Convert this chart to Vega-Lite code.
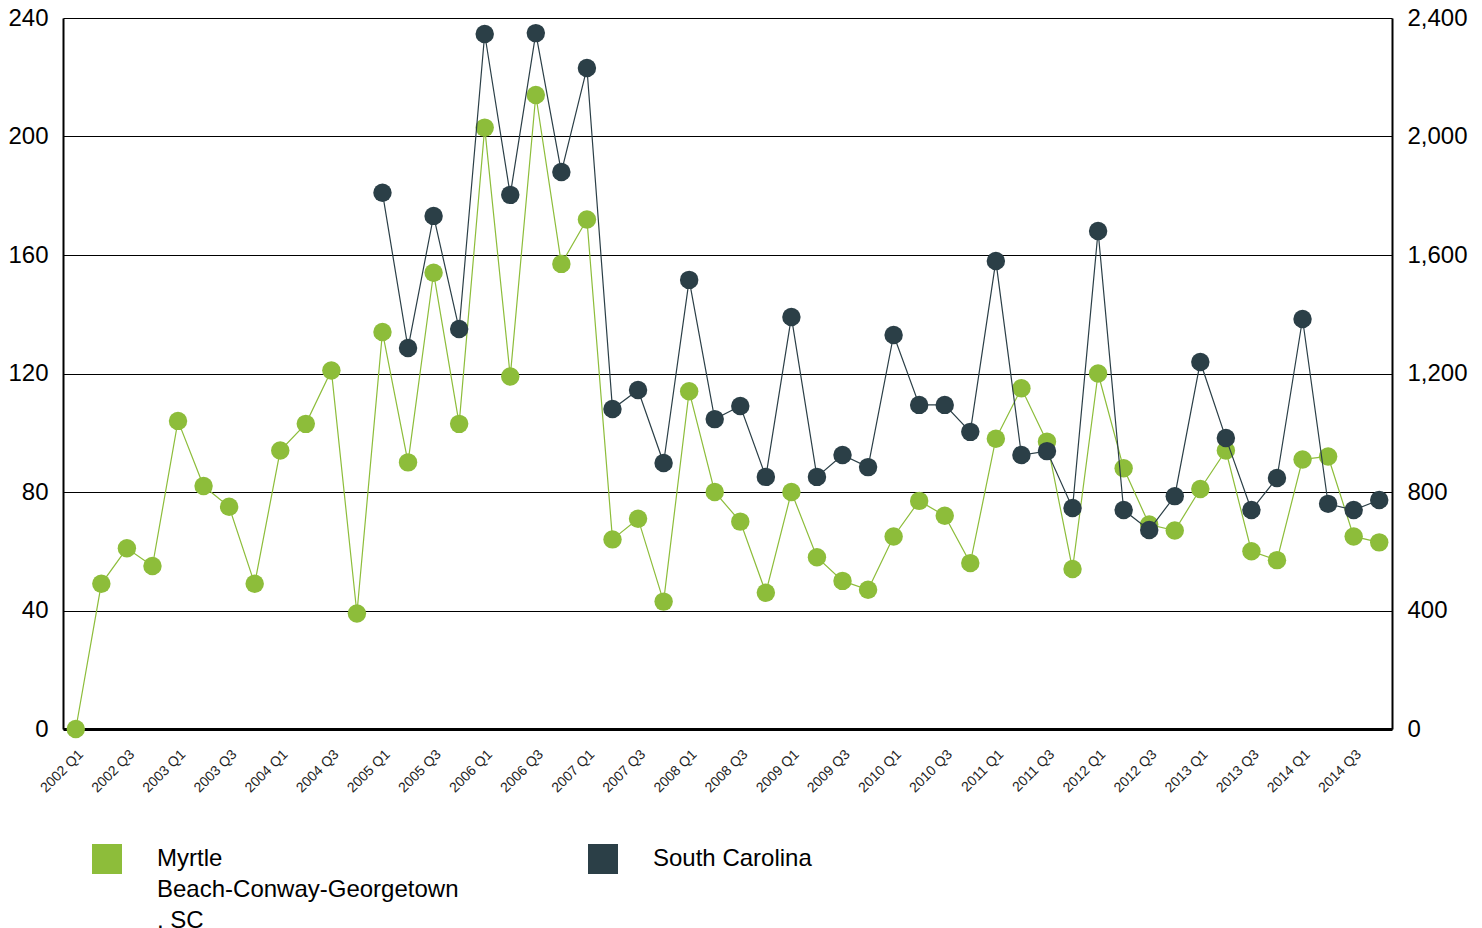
{
  "$schema": "https://vega.github.io/schema/vega-lite/v6.json",
  "autosize": {"type": "none"},
  "width": 1329,
  "height": 711,
  "padding": {"left": 63, "top": 18, "right": 90, "bottom": 199},
  "background": "white",
  "config": {
    "view": {"stroke": null},
    "font": "Liberation Sans",
    "axis": {"labelFont": "Liberation Sans", "labelColor": "#000000", "ticks": false, "title": null},
    "style": {"guide-label": {"lineHeight": 31}}
  },
  "datasets": {
    "myrtle": [
      {"q": "2002 Q1", "v": 0}, {"q": "2002 Q2", "v": 49}, {"q": "2002 Q3", "v": 61}, {"q": "2002 Q4", "v": 55},
      {"q": "2003 Q1", "v": 104}, {"q": "2003 Q2", "v": 82}, {"q": "2003 Q3", "v": 75}, {"q": "2003 Q4", "v": 49},
      {"q": "2004 Q1", "v": 94}, {"q": "2004 Q2", "v": 103}, {"q": "2004 Q3", "v": 121}, {"q": "2004 Q4", "v": 39},
      {"q": "2005 Q1", "v": 134}, {"q": "2005 Q2", "v": 90}, {"q": "2005 Q3", "v": 154}, {"q": "2005 Q4", "v": 103},
      {"q": "2006 Q1", "v": 203}, {"q": "2006 Q2", "v": 119}, {"q": "2006 Q3", "v": 214}, {"q": "2006 Q4", "v": 157},
      {"q": "2007 Q1", "v": 172}, {"q": "2007 Q2", "v": 64}, {"q": "2007 Q3", "v": 71}, {"q": "2007 Q4", "v": 43},
      {"q": "2008 Q1", "v": 114}, {"q": "2008 Q2", "v": 80}, {"q": "2008 Q3", "v": 70}, {"q": "2008 Q4", "v": 46},
      {"q": "2009 Q1", "v": 80}, {"q": "2009 Q2", "v": 58}, {"q": "2009 Q3", "v": 50}, {"q": "2009 Q4", "v": 47},
      {"q": "2010 Q1", "v": 65}, {"q": "2010 Q2", "v": 77}, {"q": "2010 Q3", "v": 72}, {"q": "2010 Q4", "v": 56},
      {"q": "2011 Q1", "v": 98}, {"q": "2011 Q2", "v": 115}, {"q": "2011 Q3", "v": 97}, {"q": "2011 Q4", "v": 54},
      {"q": "2012 Q1", "v": 120}, {"q": "2012 Q2", "v": 88}, {"q": "2012 Q3", "v": 69}, {"q": "2012 Q4", "v": 67},
      {"q": "2013 Q1", "v": 81}, {"q": "2013 Q2", "v": 94}, {"q": "2013 Q3", "v": 60}, {"q": "2013 Q4", "v": 57},
      {"q": "2014 Q1", "v": 91}, {"q": "2014 Q2", "v": 92}, {"q": "2014 Q3", "v": 65}, {"q": "2014 Q4", "v": 63}
    ],
    "sc": [
      {"q": "2005 Q1", "v": 1810}, {"q": "2005 Q2", "v": 1286}, {"q": "2005 Q3", "v": 1732}, {"q": "2005 Q4", "v": 1350},
      {"q": "2006 Q1", "v": 2346}, {"q": "2006 Q2", "v": 1803}, {"q": "2006 Q3", "v": 2349}, {"q": "2006 Q4", "v": 1880},
      {"q": "2007 Q1", "v": 2231}, {"q": "2007 Q2", "v": 1080}, {"q": "2007 Q3", "v": 1144}, {"q": "2007 Q4", "v": 898},
      {"q": "2008 Q1", "v": 1516}, {"q": "2008 Q2", "v": 1046}, {"q": "2008 Q3", "v": 1090}, {"q": "2008 Q4", "v": 851},
      {"q": "2009 Q1", "v": 1391}, {"q": "2009 Q2", "v": 851}, {"q": "2009 Q3", "v": 925}, {"q": "2009 Q4", "v": 884},
      {"q": "2010 Q1", "v": 1330}, {"q": "2010 Q2", "v": 1094}, {"q": "2010 Q3", "v": 1094}, {"q": "2010 Q4", "v": 1003},
      {"q": "2011 Q1", "v": 1580}, {"q": "2011 Q2", "v": 925}, {"q": "2011 Q3", "v": 938}, {"q": "2011 Q4", "v": 746},
      {"q": "2012 Q1", "v": 1681}, {"q": "2012 Q2", "v": 739}, {"q": "2012 Q3", "v": 672}, {"q": "2012 Q4", "v": 786},
      {"q": "2013 Q1", "v": 1239}, {"q": "2013 Q2", "v": 982}, {"q": "2013 Q3", "v": 739}, {"q": "2013 Q4", "v": 847},
      {"q": "2014 Q1", "v": 1384}, {"q": "2014 Q2", "v": 760}, {"q": "2014 Q3", "v": 739}, {"q": "2014 Q4", "v": 773}
    ]
  },
  "encoding": {
    "x": {
      "field": "q", "type": "ordinal",
      "scale": {"type": "point", "padding": 0.5},
      "axis": {
        "labelAngle": -45, "labelFontSize": 14, "labelColor": "#222222", "labelPadding": 18,
        "domainColor": "#000000", "domainWidth": 3,
        "labelExpr": "indexof(datum.value, 'Q1') >= 0 || indexof(datum.value, 'Q3') >= 0 ? datum.value : ''"
      }
    }
  },
  "layer": [
    {
      "data": {"name": "myrtle"},
      "transform": [{"calculate": "'Myrtle Beach-Conway-Georgetown, SC'", "as": "series"}],
      "encoding": {
        "y": {
          "field": "v", "type": "quantitative",
          "scale": {"domain": [0, 240], "nice": false},
          "axis": {
            "orient": "left", "values": [0, 40, 80, 120, 160, 200, 240],
            "grid": true, "gridColor": "#000000", "gridWidth": 1, "gridOpacity": 1,
            "domainColor": "#000000", "domainWidth": 2,
            "labelFontSize": 24, "labelPadding": 15
          }
        },
        "color": {
          "field": "series", "type": "nominal",
          "scale": {"domain": ["Myrtle Beach-Conway-Georgetown, SC", "South Carolina"], "range": ["#8dbd3a", "#2b3f47"]},
          "legend": {
            "orient": "none", "legendX": 29, "legendY": 826, "direction": "horizontal", "columns": 2,
            "title": null, "padding": 0, "symbolType": "square", "symbolSize": 900, "symbolStrokeWidth": 0,
            "symbolOpacity": 1, "labelFontSize": 24, "labelOffset": 35, "labelLimit": 600, "labelColor": "#000000",
            "labelBaseline": "middle", "columnPadding": 129,
            "labelExpr": "datum.label == 'Myrtle Beach-Conway-Georgetown, SC' ? ['Myrtle', 'Beach-Conway-Georgetown', ', SC'] : [datum.label, ' ', ' ']"
          }
        }
      },
      "layer": [
        {"mark": {"type": "line", "strokeWidth": 1.2}},
        {"mark": {"type": "point", "filled": true, "shape": "circle", "size": 340, "opacity": 1}}
      ]
    },
    {
      "data": {"name": "sc"},
      "transform": [{"calculate": "'South Carolina'", "as": "series"}],
      "encoding": {
        "y": {
          "field": "v", "type": "quantitative",
          "scale": {"domain": [0, 2400], "nice": false},
          "axis": {
            "orient": "right", "values": [0, 400, 800, 1200, 1600, 2000, 2400], "format": ",.0f",
            "grid": false, "domainColor": "#000000", "domainWidth": 2,
            "labelFontSize": 24, "labelPadding": 15
          }
        },
        "color": {"field": "series", "type": "nominal"}
      },
      "layer": [
        {"mark": {"type": "line", "strokeWidth": 1.2}},
        {"mark": {"type": "point", "filled": true, "shape": "circle", "size": 340, "opacity": 1}}
      ]
    }
  ],
  "resolve": {"scale": {"y": "independent"}}
}
